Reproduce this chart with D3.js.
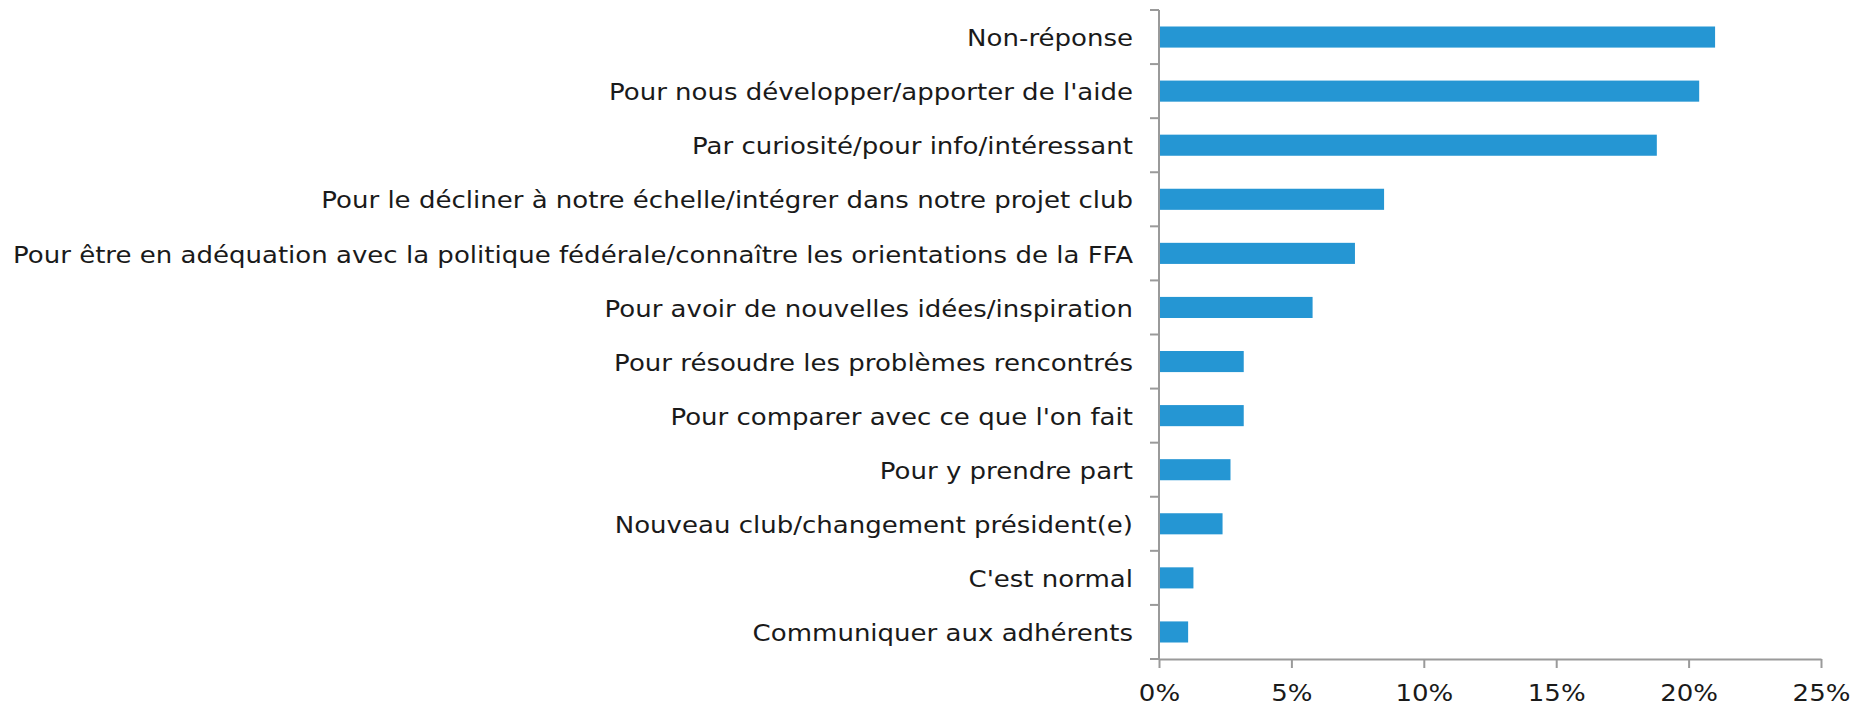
<!DOCTYPE html>
<html>
<head>
<meta charset="utf-8">
<script src="https://cdnjs.cloudflare.com/ajax/libs/d3/7.8.5/d3.min.js"></script>
<style>
  body { margin: 0; background: #fff; }
  svg text { font-family: "DejaVu Sans", sans-serif; fill: #1a1a1a; }
</style>
</head>
<body>
<svg id="chart"></svg>
<script>
// categories, top to bottom, and their share of answers (%)
const categories = [
    "Non-réponse",
    "Pour nous développer/apporter de l'aide",
    "Par curiosité/pour info/intéressant",
    "Pour le décliner à notre échelle/intégrer dans notre projet club",
    "Pour être en adéquation avec la politique fédérale/connaître les orientations de la FFA",
    "Pour avoir de nouvelles idées/inspiration",
    "Pour résoudre les problèmes rencontrés",
    "Pour comparer avec ce que l'on fait",
    "Pour y prendre part",
    "Nouveau club/changement président(e)",
    "C'est normal",
    "Communiquer aux adhérents"
];
const values = [21.0, 20.4, 18.8, 8.5, 7.4, 5.8, 3.2, 3.2, 2.7, 2.4, 1.3, 1.1];
const xTicks = [0, 5, 10, 15, 20, 25];

const width = 1850;
const height = 709;
const barColor = '#2596d3';
const axisColor = '#9a9a9a';
const fontSize = 23;

const svg = d3.select('#chart')
    .attr('width', width)
    .attr('height', height);

const x = d3.scaleLinear().domain([0, 25]).range([1159, 1821]);
const y = d3.scaleBand().domain(categories).range([10, 659])
    .paddingInner(0.61).paddingOuter(0.305);

// bars
svg.append('g').selectAll('rect')
    .data(categories)
    .enter().append('rect')
    .attr('x', x(0))
    .attr('y', d => y(d))
    .attr('width', (d, i) => x(values[i]) - x(0))
    .attr('height', y.bandwidth())
    .attr('fill', barColor);

// category labels
const labels = svg.append('g').selectAll('text')
    .data(categories)
    .enter().append('text')
    .attr('x', 1133)
    .attr('y', d => y(d) + y.bandwidth() / 2)
    .attr('dy', '0.4em')
    .attr('text-anchor', 'end')
    .style('font-size', fontSize + 'px')
    .text(d => d);

// the original font is wider: stretch every label by the same factor so the
// longest one fills the space left of the axis
const longest = d3.max(labels.nodes(), n => n.getComputedTextLength());
const stretch = 1120 / longest;
labels.each(function () {
    const len = this.getComputedTextLength();
    d3.select(this)
        .attr('textLength', len * stretch)
        .attr('lengthAdjust', 'spacingAndGlyphs');
});

// y axis: line plus ticks on category boundaries
const step = y.step();
const y0 = y.range()[0];
const boundaries = d3.range(categories.length + 1).map(i => y0 + i * step);
const yAxis = svg.append('g');
yAxis.append('line')
    .attr('x1', x(0)).attr('x2', x(0))
    .attr('y1', y0).attr('y2', y.range()[1])
    .attr('stroke', axisColor).attr('stroke-width', 2);
yAxis.selectAll('.btick')
    .data(boundaries)
    .enter().append('line')
    .attr('x1', x(0) - 9).attr('x2', x(0))
    .attr('y1', d => d).attr('y2', d => d)
    .attr('stroke', axisColor).attr('stroke-width', 2);

// x axis
const xAxis = svg.append('g')
    .attr('transform', `translate(0, ${y.range()[1]})`)
    .call(d3.axisBottom(x)
        .tickValues(xTicks)
        .tickFormat(d => d + '%')
        .tickSize(9)
        .tickSizeOuter(0)
        .tickPadding(17));
xAxis.select('.domain').attr('stroke', axisColor).attr('stroke-width', 2);
xAxis.selectAll('.tick line').attr('stroke', axisColor).attr('stroke-width', 2);
xAxis.selectAll('.tick text')
    .style('font-size', fontSize + 'px')
    .style('font-family', '"DejaVu Sans", sans-serif')
    .attr('fill', '#1a1a1a')
    .each(function () {
        const len = this.getComputedTextLength();
        d3.select(this)
            .attr('textLength', len * stretch)
            .attr('lengthAdjust', 'spacingAndGlyphs');
    });
</script>
</body>
</html>
